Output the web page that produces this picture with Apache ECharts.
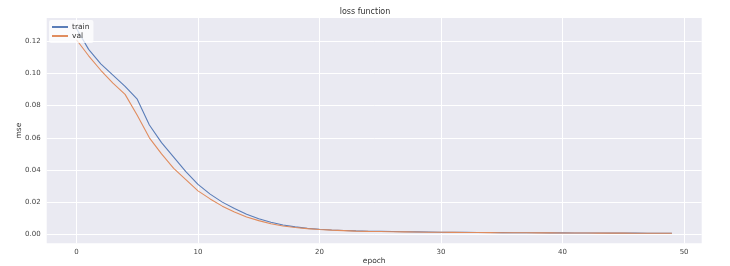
<!DOCTYPE html>
<html><head><meta charset="utf-8">
<script src="https://cdn.jsdelivr.net/npm/echarts@6/dist/echarts.min.js"></script>
<style>html,body{margin:0;padding:0;background:#fff}#c{width:730px;height:266px}</style>
</head><body><div id="c"></div>
<script>
const epochs = [0,1,2,3,4,5,6,7,8,9,10,11,12,13,14,15,16,17,18,19,20,21,22,23,24,25,26,27,28,29,30,31,32,33,34,35,36,37,38,39,40,41,42,43,44,45,46,47,48,49];
const train = [0.128,0.115,0.106,0.099,0.092,0.084,0.068,0.057,0.048,0.039,
  0.031,0.025,0.020,0.016,0.0125,0.0097,0.0075,0.0058,0.0046,0.0037,
  0.0031,0.0027,0.0024,0.0021,0.0019,0.0018,0.0017,0.0016,0.0015,0.0014,
  0.0013,0.00125,0.0012,0.00115,0.0011,0.00105,0.001,0.00097,0.00094,0.0009,
  0.00087,0.00084,0.00081,0.00078,0.00075,0.00072,0.0007,0.00068,0.00066,0.00064];
const val = [0.121,0.111,0.102,0.094,0.087,0.074,0.060,0.050,0.041,0.034,
  0.027,0.022,0.0175,0.0138,0.0108,0.0085,0.0066,0.0052,0.0042,0.0035,
  0.0030,0.0026,0.0023,0.0020,0.0018,0.0017,0.0016,0.0015,0.0014,0.0013,
  0.00125,0.0012,0.00115,0.0011,0.00105,0.001,0.00096,0.00092,0.00089,0.00086,
  0.00083,0.0008,0.00077,0.00074,0.00072,0.0007,0.00068,0.00066,0.00064,0.00062];
const xTicks = [0,10,20,30,40,50];
const yTicks = [0,0.02,0.04,0.06,0.08,0.10,0.12];

const font = '"DejaVu Sans", sans-serif';
const chart = echarts.init(document.getElementById('c'), null, {renderer:'canvas'});
chart.setOption({
  animation:false,
  backgroundColor:'#fff',
  textStyle:{fontFamily:font},
  title:{text:'loss function',left:'center',top:3,
    textStyle:{fontFamily:font,fontSize:8,fontWeight:'normal',color:'#333'}},
  legend:{left:49,top:20,orient:'vertical',itemGap:1,itemWidth:16,itemHeight:2,
    icon:'rect',backgroundColor:'rgba(255,255,255,0.75)',borderRadius:2,padding:[3,4,3,3],
    textStyle:{fontFamily:font,fontSize:7.5,color:'#333',padding:[0,0,0,-1]},
    data:['train','val']},
  grid:{left:46.7,right:28.3,top:18,bottom:22.7,show:true,backgroundColor:'#EAEAF2',borderWidth:0,
    containLabel:false,outerBoundsMode:'none'},
  xAxis:{type:'value',min:-2.45,max:51.45,
    name:'epoch',nameLocation:'middle',nameGap:18,nameMoveOverlap:false,
    nameTextStyle:{fontFamily:font,fontSize:7.5,color:'#333',verticalAlign:'middle'},
    axisLine:{show:false},
    axisTick:{show:false,customValues:xTicks},
    axisLabel:{customValues:xTicks,fontFamily:font,fontSize:7,color:'#444',margin:5},
    splitLine:{show:true,lineStyle:{color:'#fff',width:1}}},
  yAxis:{type:'value',min:-0.0056,max:0.1345,
    name:'mse',nameLocation:'middle',nameGap:28,nameRotate:90,nameMoveOverlap:false,
    nameTextStyle:{fontFamily:font,fontSize:7.5,color:'#333',verticalAlign:'middle'},
    axisLine:{show:false},
    axisTick:{show:false,customValues:yTicks},
    axisLabel:{customValues:yTicks,fontFamily:font,fontSize:7,color:'#444',margin:6,
      formatter:v=>v.toFixed(2)},
    splitLine:{show:true,lineStyle:{color:'#fff',width:1}}},
  series:[
    {name:'train',type:'line',data:epochs.map((e,i)=>[e,train[i]]),showSymbol:false,
      lineStyle:{color:'#5A7DB8',width:1.1},itemStyle:{color:'#5A7DB8'}},
    {name:'val',type:'line',data:epochs.map((e,i)=>[e,val[i]]),showSymbol:false,
      lineStyle:{color:'#E08C5E',width:1.1},itemStyle:{color:'#E08C5E'}}
  ]
});
</script></body></html>
